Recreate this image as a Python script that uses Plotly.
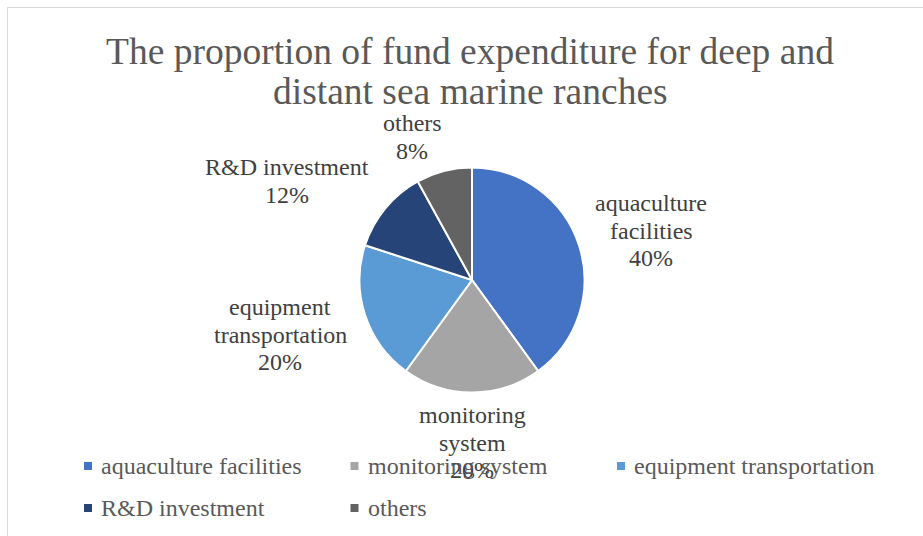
import plotly.graph_objects as go

W, H = 923, 536

categories = ["aquaculture facilities", "monitoring system", "equipment transportation",
              "R&D investment", "others"]
shares = [40, 20, 20, 12, 8]
label_lines = [["aquaculture", "facilities"], ["monitoring", "system"],
               ["equipment", "transportation"], ["R&D investment"], ["others"]]
colors = ["#4472C4", "#A5A5A5", "#5B9BD5", "#264478", "#636363"]
title_lines = ["The proportion of fund expenditure for deep and",
               "distant sea marine ranches"]

FONT = "Liberation Serif, Times New Roman, serif"

def px(x):
    return x / W

def py(y):
    return 1 - y / H

cx, cy, r = 472, 280, 112.5

fig = go.Figure(go.Pie(
    labels=categories,
    values=shares,
    sort=False,
    direction="clockwise",
    rotation=0,
    textinfo="none",
    hoverinfo="skip",
    showlegend=False,
    marker=dict(colors=colors, line=dict(color="white", width=2)),
    domain=dict(x=[px(cx - r), px(cx + r)], y=[py(cy + r), py(cy - r)]),
))

annotations = []
shapes = []
# title
for i, line in enumerate(title_lines):
    annotations.append(dict(text=line, x=px(470), y=py(51 + 40 * i), xref="paper", yref="paper",
                            xanchor="center", yanchor="middle", showarrow=False,
                            font=dict(family=FONT, size=37.5, color="#595959")))

# data label anchor positions (center x, first-line center y), pixel layout
label_pos = [(651, 203), (472, 415), (280, 307), (287, 167), (412, 123)]
for (lx, ly), lines, v in zip(label_pos, label_lines, shares):
    all_lines = lines + ["%d%%" % v]
    for j, t in enumerate(all_lines):
        annotations.append(dict(text=t, x=px(lx), y=py(ly + 27.5 * j), xref="paper", yref="paper",
                                xanchor="center", yanchor="middle", showarrow=False,
                                font=dict(family=FONT, size=24, color="#404040")))

# legend laid out as a 3-column grid at the bottom (Excel style)
leg_x0, leg_y0, col_w, row_h, sq = 88, 466, 266.5, 42, 8
for k, (name, col) in enumerate(zip(categories, colors)):
    gx = leg_x0 + (k % 3) * col_w
    gy = leg_y0 + (k // 3) * row_h
    shapes.append(dict(type="rect", xref="paper", yref="paper",
                       x0=px(gx - sq / 2), x1=px(gx + sq / 2),
                       y0=py(gy + sq / 2), y1=py(gy - sq / 2),
                       fillcolor=col, line=dict(width=0)))
    annotations.append(dict(text=name, x=px(gx + 11), y=py(gy), xref="paper", yref="paper",
                            xanchor="left", yanchor="middle", showarrow=False,
                            font=dict(family=FONT, size=24, color="#595959")))

# chart border
shapes.append(dict(type="rect", xref="paper", yref="paper",
                   x0=px(7.5), x1=px(940), y0=py(560), y1=py(7.5),
                   line=dict(color="#D9D9D9", width=1), fillcolor="rgba(0,0,0,0)", layer="below"))

fig.update_layout(
    width=W, height=H,
    margin=dict(l=0, r=0, t=0, b=0, autoexpand=False),
    paper_bgcolor="white", plot_bgcolor="white",
    showlegend=False,
    annotations=annotations,
    shapes=shapes,
)

fig.write_html("out.html", config={"displayModeBar": False},
               post_script="document.body.style.margin='0';document.body.style.overflow='hidden';")
